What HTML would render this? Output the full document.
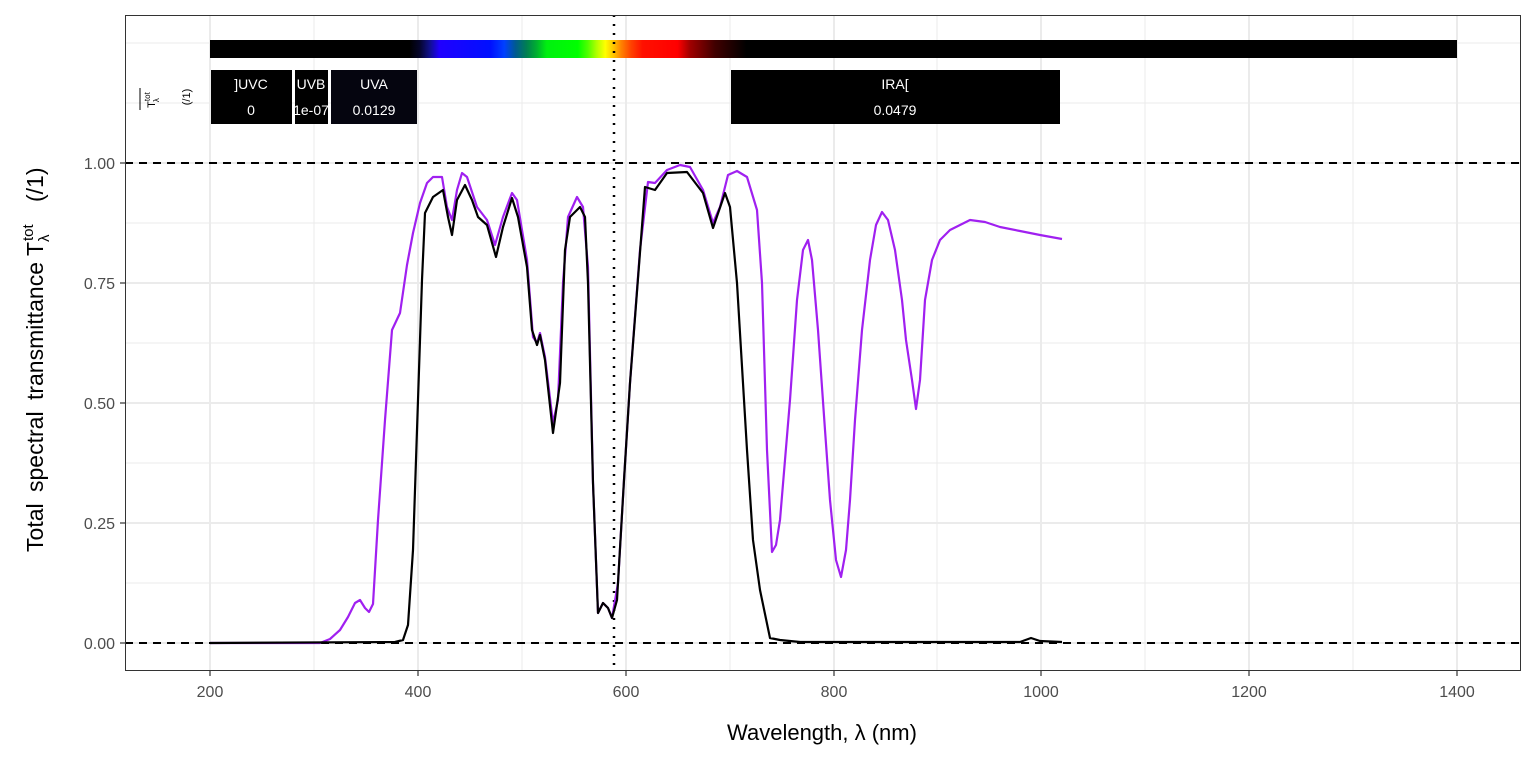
<!DOCTYPE html>
<html><head><meta charset="utf-8"><style>body{margin:0;background:#fff}svg{display:block;font-family:"Liberation Sans",sans-serif}</style></head><body>
<svg width="1536" height="768" viewBox="0 0 1536 768" xmlns="http://www.w3.org/2000/svg">
<defs>
<linearGradient id="spec" x1="210" x2="1457" gradientUnits="userSpaceOnUse">
<stop offset="0" stop-color="#000"/>
<stop offset="0.160" stop-color="#000"/>
<stop offset="0.168" stop-color="#05052a"/>
<stop offset="0.176" stop-color="#10108a"/>
<stop offset="0.184" stop-color="#2000ff"/>
<stop offset="0.225" stop-color="#0010ff"/>
<stop offset="0.236" stop-color="#0040ff"/>
<stop offset="0.245" stop-color="#005a90"/>
<stop offset="0.254" stop-color="#008050"/>
<stop offset="0.262" stop-color="#00b030"/>
<stop offset="0.27" stop-color="#00f010"/>
<stop offset="0.295" stop-color="#00ff00"/>
<stop offset="0.303" stop-color="#50ff00"/>
<stop offset="0.31" stop-color="#b0ff00"/>
<stop offset="0.317" stop-color="#ffff00"/>
<stop offset="0.324" stop-color="#ffc000"/>
<stop offset="0.33" stop-color="#ff8000"/>
<stop offset="0.338" stop-color="#ff4000"/>
<stop offset="0.347" stop-color="#ff1000"/>
<stop offset="0.375" stop-color="#ff0000"/>
<stop offset="0.385" stop-color="#a00000"/>
<stop offset="0.405" stop-color="#400000"/>
<stop offset="0.43" stop-color="#000"/>
<stop offset="1" stop-color="#000"/>
</linearGradient>
</defs>
<rect x="125" y="15" width="1396" height="656" fill="#fff" stroke="none"/>
<g stroke="#ebebeb" stroke-width="1">
<line x1="125" x2="1521" y1="43" y2="43"/><line x1="125" x2="1521" y1="103" y2="103"/>
<line x1="125" x2="1521" y1="223" y2="223"/><line x1="125" x2="1521" y1="343" y2="343"/>
<line x1="125" x2="1521" y1="463" y2="463"/><line x1="125" x2="1521" y1="583" y2="583"/>
<line x1="314" x2="314" y1="15" y2="671"/><line x1="522" x2="522" y1="15" y2="671"/>
<line x1="730" x2="730" y1="15" y2="671"/><line x1="937" x2="937" y1="15" y2="671"/>
<line x1="1145" x2="1145" y1="15" y2="671"/><line x1="1353" x2="1353" y1="15" y2="671"/>
</g>
<g stroke="#ebebeb" stroke-width="2">
<line x1="125" x2="1521" y1="163" y2="163"/><line x1="125" x2="1521" y1="283" y2="283"/>
<line x1="125" x2="1521" y1="403" y2="403"/><line x1="125" x2="1521" y1="523" y2="523"/>
<line x1="125" x2="1521" y1="643" y2="643"/>
<line x1="210" x2="210" y1="15" y2="671"/><line x1="418" x2="418" y1="15" y2="671"/>
<line x1="626" x2="626" y1="15" y2="671"/><line x1="834" x2="834" y1="15" y2="671"/>
<line x1="1041" x2="1041" y1="15" y2="671"/><line x1="1249" x2="1249" y1="15" y2="671"/>
<line x1="1457" x2="1457" y1="15" y2="671"/>
</g>
<rect x="210" y="40" width="1247" height="18" fill="url(#spec)"/>
<g fill="#000">
<rect x="211" y="70" width="81" height="54"/>
<rect x="295" y="70" width="33" height="54"/>
<rect x="331" y="70" width="86" height="54" fill="#05050f"/>
<rect x="731" y="70" width="329" height="54"/>
</g>
<g fill="#fff" font-size="14" text-anchor="middle">
<text x="251" y="89">]UVC</text><text x="251" y="115">0</text>
<text x="311" y="89">UVB</text><text x="311" y="115">1e-07</text>
<text x="374" y="89">UVA</text><text x="374" y="115">0.0129</text>
<text x="895" y="89">IRA[</text><text x="895" y="115">0.0479</text>
</g>
<g fill="#000" font-size="11">
<text transform="translate(155,100) rotate(-90)" text-anchor="middle">T<tspan font-size="8" dy="-5">tot</tspan><tspan font-size="8" dx="-10" dy="9">λ</tspan></text>
<line x1="140" x2="140" y1="88" y2="110" stroke="#000" stroke-width="1"/>
<text transform="translate(190,97) rotate(-90)" text-anchor="middle">(/1)</text>
</g>
<g stroke="#000" stroke-width="2" fill="none">
<line x1="125" x2="1521" y1="163" y2="163" stroke-dasharray="8,6"/>
<line x1="125" x2="1521" y1="643" y2="643" stroke-dasharray="8,6"/>
<line x1="614" x2="614" y1="15" y2="671" stroke-dasharray="2,7" stroke-width="2.5"/>
</g>
<polyline fill="none" stroke="#a020f0" stroke-width="2.2" stroke-linejoin="round" points="210,643 320,643 330,639 340,630 348,617 355,603 360,600 365,608 369,612 373,604 378,520 385,420 392,330 400,313 407,265 413,233 420,203 427,183 433,177 442,177 447,207 452,220 457,190 462,173 467,177 477,207 487,220 495,245 503,217 512,193 517,200 527,260 533,337 537,343 540,333 545,357 553,423 558,400 563,283 568,217 577,197 583,207 588,267 593,483 598,613 603,603 608,608 612,618 618,583 624,480 630,383 640,250 648,182 655,183 667,170 680,165 690,167 703,190 713,223 720,207 728,175 737,171 747,177 757,210 762,283 767,450 772,552 776,545 780,520 790,400 797,300 803,250 808,240 812,260 818,330 825,430 830,500 836,560 841,577 846,550 850,500 855,420 862,330 870,260 876,225 882,212 888,220 895,250 902,300 906,340 912,380 916,409 920,380 925,300 932,260 940,240 950,230 960,225 970,220 985,222 1000,227 1020,231 1040,235 1062,239"/>
<polyline fill="none" stroke="#000" stroke-width="2.2" stroke-linejoin="round" points="210,643 395,642 403,640 408,625 413,550 418,400 422,280 425,213 433,197 443,190 448,217 452,235 457,200 465,185 472,200 478,217 487,225 496,257 503,227 512,198 518,217 527,267 532,330 537,345 540,335 545,360 553,433 560,383 565,250 570,217 580,207 585,217 588,283 593,483 598,613 603,603 608,608 612,618 617,600 624,480 630,383 645,187 655,190 667,173 687,172 703,193 713,228 725,193 730,207 737,283 747,450 753,540 760,590 770,638 780,640 800,642 1020,642 1031,638 1040,641 1062,642"/>
<rect x="125.5" y="15.5" width="1395" height="655" fill="none" stroke="#333" stroke-width="1"/>
<g stroke="#333" stroke-width="1.2">
<line x1="120" x2="125" y1="163" y2="163"/><line x1="120" x2="125" y1="283" y2="283"/><line x1="120" x2="125" y1="403" y2="403"/><line x1="120" x2="125" y1="523" y2="523"/><line x1="120" x2="125" y1="643" y2="643"/>
<line x1="210" x2="210" y1="671" y2="676"/><line x1="418" x2="418" y1="671" y2="676"/><line x1="626" x2="626" y1="671" y2="676"/><line x1="834" x2="834" y1="671" y2="676"/><line x1="1041" x2="1041" y1="671" y2="676"/><line x1="1249" x2="1249" y1="671" y2="676"/><line x1="1457" x2="1457" y1="671" y2="676"/>
</g>
<g fill="#4d4d4d" font-size="16" text-anchor="end">
<text x="115" y="169">1.00</text><text x="115" y="289">0.75</text><text x="115" y="409">0.50</text><text x="115" y="529">0.25</text><text x="115" y="649">0.00</text>
</g>
<g fill="#4d4d4d" font-size="16" text-anchor="middle">
<text x="210" y="697">200</text><text x="418" y="697">400</text><text x="626" y="697">600</text><text x="834" y="697">800</text><text x="1041" y="697">1000</text><text x="1249" y="697">1200</text><text x="1457" y="697">1400</text>
</g>
<text x="822" y="740" font-size="22" text-anchor="middle" fill="#000">Wavelength, λ (nm)</text>
<g transform="translate(43,0) rotate(-90)" fill="#000">
<text x="-262" y="0" font-size="23" text-anchor="end" word-spacing="5">Total spectral transmittance</text>
<text x="-256" y="0" font-size="23">T</text>
<text x="-241" y="-10" font-size="15">tot</text>
<text x="-242" y="6" font-size="15">λ</text>
<text x="-202" y="0" font-size="23">(/1)</text>
</g>
</svg>
</body></html>
